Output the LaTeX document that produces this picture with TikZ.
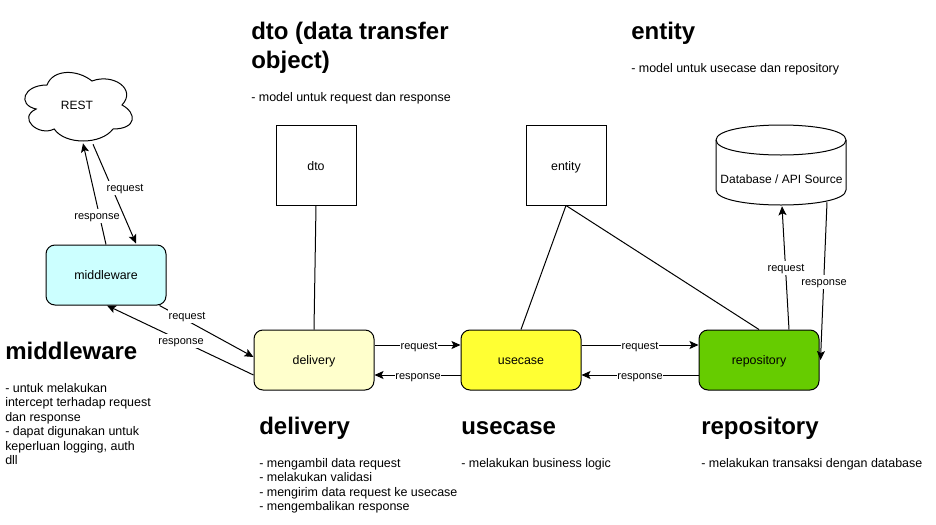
\documentclass[tikz,border=0pt]{standalone}
\usepackage{fontspec}
\setmainfont{Liberation Sans}
\usetikzlibrary{arrows.meta,calc}
\tikzset{
  box/.style={draw=black,line width=0.75pt,minimum width=90pt,minimum height=45pt,inner sep=0pt,text height=8pt,text depth=1.2pt,font=\fontsize{9.3}{11}\selectfont},
  sq/.style={box,minimum width=60pt,minimum height=60pt,text height=9pt},
  rbox/.style={box,rounded corners=6.75pt},
  conn/.style={line width=0.75pt,draw=black},
  arr/.style={conn,-{Stealth[length=6.75pt,width=6pt,inset=1.5pt]}},
  lab/.style={fill=white,inner sep=0.4pt,text height=7.4pt,text depth=1.8pt,font=\fontsize{8.25}{10}\selectfont},
  ttl/.style={anchor=base west,inner sep=0pt,font=\fontsize{18}{21.75}\bfseries\selectfont,align=left},
  txt/.style={anchor=north west,inner sep=0pt,font=\fontsize{9.35}{10.875}\selectfont,align=left},
  plainnode/.style={inner sep=0pt,font=\fontsize{9}{11}\selectfont},
}
\definecolor{cmid}{HTML}{CCFFFF}
\definecolor{cdel}{HTML}{FFFFCC}
\definecolor{cuse}{HTML}{FFFF33}
\definecolor{crep}{HTML}{66CC00}
\begin{document}
\begin{tikzpicture}[x=0.75pt,y=-0.75pt]
\useasboundingbox (0,0) rectangle (936,525);
% cloud
\begin{scope}[shift={(17,65)}]
\draw[line width=0.75pt] (30,20) .. controls (6,20) and (0,40) .. (19.2,44)
  .. controls (0,52.8) and (21.6,72) .. (37.2,64)
  .. controls (48,80) and (84,80) .. (96,64)
  .. controls (120,64) and (120,48) .. (105,40)
  .. controls (120,24) and (96,8) .. (75,16)
  .. controls (60,4) and (36,4) .. (30,20) -- cycle;
\end{scope}
\node[plainnode,minimum width=90pt,minimum height=60pt] (rest) at (77,105) {REST};
% cylinder
\begin{scope}[shift={(716,125)}]
\draw[line width=0.75pt] (0,15) .. controls (0,-5) and (130,-5) .. (130,15) -- (130,65)
  .. controls (130,85) and (0,85) .. (0,65) -- cycle;
\draw[line width=0.75pt] (0,15) .. controls (0,35) and (130,35) .. (130,15);
\end{scope}
\node[plainnode,minimum width=97.5pt,minimum height=60pt] (db) at (781,165) {};
\node[plainnode] (dblabel) at (781.5,179) {Database / API Source};
% boxes
\node[rbox,fill=cmid] (mw) at (106,275) {middleware};
\node[rbox,fill=cdel] (del) at (314,360) {delivery};
\node[rbox,fill=cuse] (use) at (521,360) {usecase};
\node[rbox,fill=crep] (rep) at (759,360) {repository};
\node[sq] (dto) at (316,165) {dto};
\node[sq] (ent) at (566,165) {entity};
% plain links
\draw[conn] (dto.south) -- (del.north);
\draw[conn] (ent.south) -- (use.north);
\draw[conn] (ent.south) -- (rep.north);
% arrows
\draw[arr] (mw.north) -- ($(rest.south)+(6,-2)$);
\draw[arr] ($(rest.south)+(16,-1)$) -- ($(mw.north)+(30,-1)$);
\draw[arr] ($(mw.south east)+(-7,0)$) -- ($(del.west)+(0,-3)$);
\draw[arr] ($(del.west)+(0,15)$) -- ($(mw.south)+(1,0)$);
\draw[arr] ($(del.east)+(0,-15)$) -- ($(use.west)+(0,-15)$);
\draw[arr] ($(use.west)+(0,15)$) -- ($(del.east)+(0,15)$);
\draw[arr] ($(use.east)+(0,-15)$) -- ($(rep.west)+(0,-15)$);
\draw[arr] ($(rep.west)+(0,15)$) -- ($(use.east)+(0,15)$);
\draw[arr] ($(rep.north)+(30,0)$) -- ($(db.south)+(1,1)$);
\draw[arr] ($(db.south)+(46,-3)$) -- ($(rep.east)+(1,0)$);
% connector labels
\node[lab] (l1) at (97,216) {response};
\node[lab] (l2) at (125,188) {request};
\node[lab] (l3) at (187,316) {request};
\node[lab] (l4) at (181,341) {response};
\node[lab] (l5) at (419,346) {request};
\node[lab] (l6) at (418,376) {response};
\node[lab] (l7) at (640,346) {request};
\node[lab] (l8) at (640,376) {response};
\node[lab] (l9) at (786,268) {request};
\node[lab] (l10) at (824,282) {response};
% texts
\node[ttl] (t1) at (251,68) {dto (data transfer\\object)};
\node[txt] (b1) at (251,92) {- model untuk request dan response};
\node[ttl] (t2) at (631,39) {entity};
\node[txt] (b2) at (631,63) {- model untuk usecase dan repository};
\node[ttl] (t3) at (5,359) {middleware};
\node[txt] (b3) at (5,383) {- untuk melakukan\\intercept terhadap request\\dan response\\- dapat digunakan untuk\\keperluan logging, auth\\dll};
\node[ttl] (t4) at (259,434) {delivery};
\node[txt] (b4) at (259,458) {- mengambil data request\\- melakukan validasi\\- mengirim data request ke usecase\\- mengembalikan response};
\node[ttl] (t5) at (461,434) {usecase};
\node[txt] (b5) at (461,458) {- melakukan business logic};
\node[ttl] (t6) at (701,434) {repository};
\node[txt] (b6) at (701,458) {- melakukan transaksi dengan database};
\end{tikzpicture}
\end{document}
